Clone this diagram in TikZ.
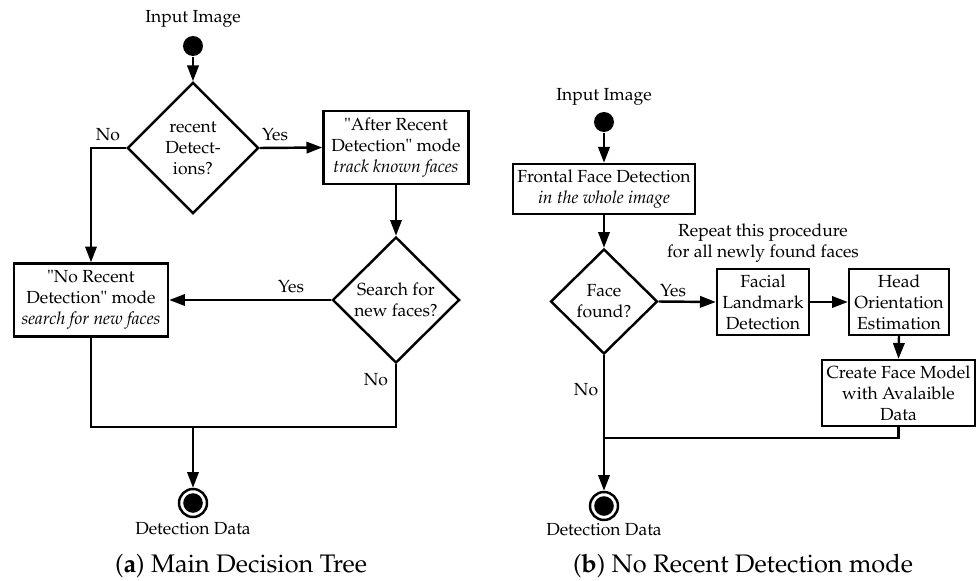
\documentclass[tikz,border=0pt]{standalone}
\usepackage[T1]{fontenc}
\usepackage{mathpazo}
\usetikzlibrary{shapes.geometric,arrows.meta}
\begin{document}
\begin{tikzpicture}[x=0.5714pt,y=-0.5714pt, line width=1.4pt,
  >={Triangle[length=9pt,width=6.5pt]},
  box/.style={draw, align=center, inner sep=0pt},
  dia/.style={draw, diamond, align=center, inner sep=0pt},
  lbl/.style={inner sep=0pt},
  captxt/.style={inner sep=0pt, font=\fontsize{14.5}{17}\selectfont},
  startdot/.style={circle, fill, minimum size=11.4pt, inner sep=0pt},
  enddot/.style={circle, draw, minimum size=16pt, inner sep=0pt,
    path picture={\fill (path picture bounding box.center) circle (5.6pt);}}]
\useasboundingbox (0,0) rectangle (976,581);
% ---------- (a) ----------
\node[lbl] (inA) at (193,19) {Input Image};
\node[startdot] (sA) at (193,46) {};
\node[dia, minimum width=74.9pt, minimum height=74.9pt] (d1) at (193,148) {recent\\Detect-\\ions?};
\node[box, minimum width=82.9pt, minimum height=41.7pt] (b2) at (396,147.5) {\textquotedbl After Recent\\Detection\textquotedbl{} mode\\\textit{track known faces}};
\node[dia, minimum width=72.6pt, minimum height=72pt] (d2) at (396,300) {Search for\\new faces?};
\node[box, minimum width=88pt, minimum height=41.7pt] (b1) at (91,300) {\textquotedbl No Recent\\Detection\textquotedbl{} mode\\\textit{search for new faces}};
\coordinate (jA) at (193,427);
\node[enddot] (eA) at (193,503) {};
\node[lbl] (outA) at (193,529) {Detection Data};
\node[lbl] (noA) at (108,135) {No};
\node[lbl] (yesA) at (275,135) {Yes};
\node[lbl] (yesB) at (291,287) {Yes};
\node[lbl] (noB) at (376,380) {No};
\node[captxt] (capA) at (241,566) {(\textbf{a}) Main Decision Tree};
\draw[->] (sA) -- (d1.north);
\draw[->] (d1.west) -| (b1.north);
\draw[->] (d1.east) -- (b2.west);
\draw[->] (b2.south) -- (d2.north);
\draw[->] (d2.west) -- (b1.east);
\draw (b1.south) |- (jA) -| (d2.south);
\draw[->] (jA) -- (eA.north);
% ---------- (b) ----------
\node[lbl] (inB) at (604,97) {Input Image};
\node[startdot] (sB) at (604,122) {};
\node[box, minimum width=104pt, minimum height=28.6pt] (b3) at (604,189) {Frontal Face Detection\\\textit{in the whole image}};
\node[dia, minimum width=61.1pt, minimum height=60pt] (d3) at (604,301.5) {Face\\found?};
\node[box, minimum width=52.6pt, minimum height=37.7pt] (b4) at (763,302) {Facial\\Landmark\\Detection};
\node[box, minimum width=57.1pt, minimum height=37.7pt] (b5) at (899,302) {Head\\Orientation\\Estimation};
\node[box, minimum width=87.4pt, minimum height=37.7pt] (b6) at (898.5,393) {Create Face Model\\with Avalaible\\Data};
\node[lbl, align=center] (rep) at (763,243) {Repeat this procedure\\for all newly found faces};
\coordinate (jB) at (604,438);
\node[enddot] (eB) at (604,506) {};
\node[lbl] (outB) at (604,530) {Detection Data};
\node[lbl] (yesC) at (673,291) {Yes};
\node[lbl] (noC) at (586,390) {No};
\node[captxt] (capB) at (743,566) {(\textbf{b}) No Recent Detection mode};
\draw[->] (sB) -- (b3.north);
\draw[->] (b3.south) -- (d3.north);
\draw[->] (d3.east) -- (b4.west);
\draw[->] (b4.east) -- (b5.west);
\draw[->] (b5.south) -- (b6.north);
\draw[->] (d3.south) -- (eB.north);
\draw (b6.south) |- (jB);
\end{tikzpicture}
\end{document}
